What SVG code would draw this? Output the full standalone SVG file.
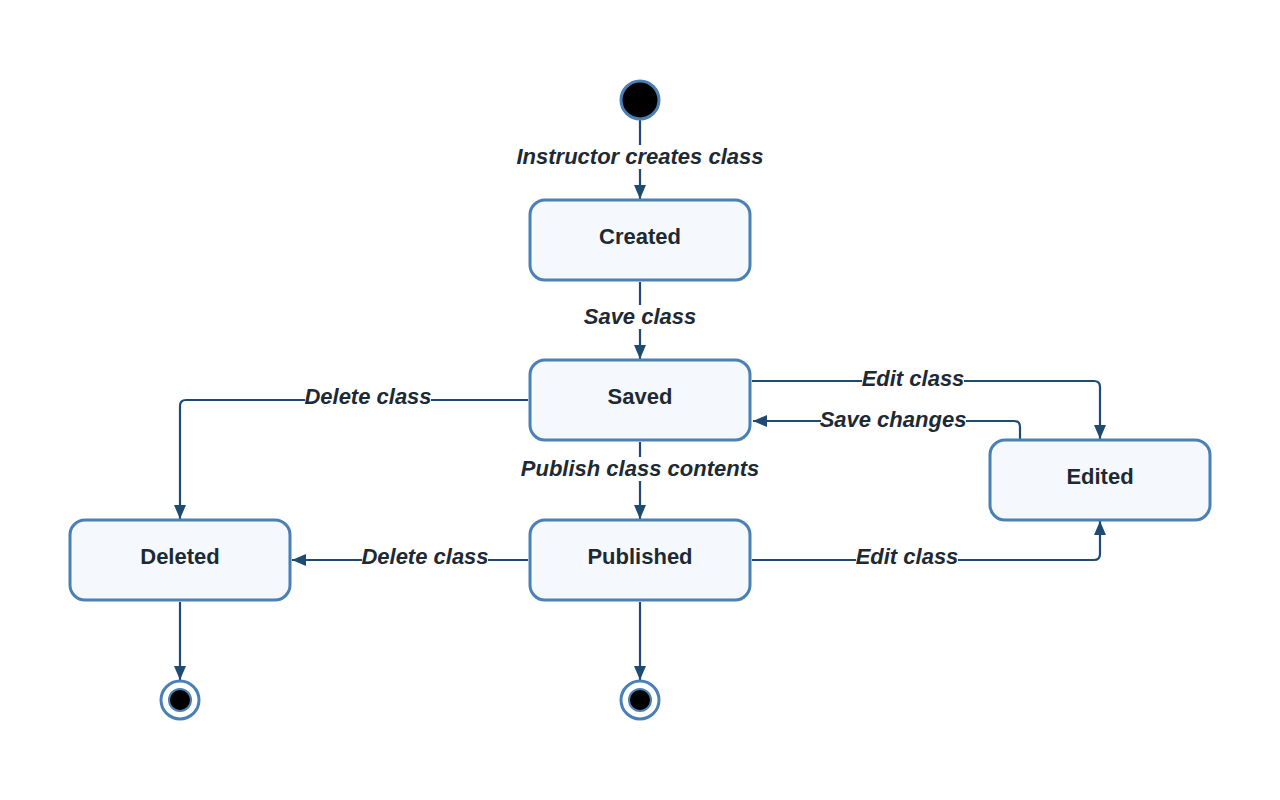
<svg xmlns="http://www.w3.org/2000/svg" width="1280" height="800" viewBox="0 0 1280 800">
<style>
.node rect{fill:#f5f9fd;stroke:#4a80b6;stroke-width:3}
.node text{font-family:"Liberation Sans",Arial,sans-serif;font-weight:bold;font-size:22px;fill:#1e2a33;text-anchor:middle;dominant-baseline:central}
.edge{fill:none;stroke:#1f4a72;stroke-width:2.2}
.lbl{font-family:"Liberation Sans",Arial,sans-serif;font-weight:bold;font-style:italic;font-size:22px;fill:#1e2a33;text-anchor:middle;dominant-baseline:central}
.bg{fill:#ffffff}
</style>
<defs>
<marker id="arr" viewBox="0 0 14 12" refX="14" refY="6" markerWidth="14" markerHeight="12" markerUnits="userSpaceOnUse" orient="auto">
<path d="M0,0 L14,6 L0,12 z" fill="#1f4a72"/>
</marker>
</defs>
<rect width="1280" height="800" fill="#ffffff"/>
<g id="connectors">
<path class="edge" d="M640,120 V199" marker-end="url(#arr)"/>
<path class="edge" d="M640,282 V359" marker-end="url(#arr)"/>
<path class="edge" d="M752,381 H1094 Q1100,381 1100,387 V439" marker-end="url(#arr)"/>
<path class="edge" d="M1020,439 V427 Q1020,421 1014,421 H753" marker-end="url(#arr)"/>
<path class="edge" d="M528,400 H186 Q180,400 180,406 V519" marker-end="url(#arr)"/>
<path class="edge" d="M640,442 V519" marker-end="url(#arr)"/>
<path class="edge" d="M528,560 H292" marker-end="url(#arr)"/>
<path class="edge" d="M752,560 H1094 Q1100,560 1100,554 V521" marker-end="url(#arr)"/>
<path class="edge" d="M180,602 V680" marker-end="url(#arr)"/>
<path class="edge" d="M640,602 V680" marker-end="url(#arr)"/>
<rect class="bg" x="516" y="145" width="248" height="24"/>
<text class="lbl" x="640" y="156">Instructor creates class</text>
<rect class="bg" x="585" y="305" width="110" height="24"/>
<text class="lbl" x="640" y="316">Save class</text>
<rect class="bg" x="862" y="367" width="102" height="24"/>
<text class="lbl" x="913" y="378">Edit class</text>
<rect class="bg" x="821" y="408" width="145" height="24"/>
<text class="lbl" x="893" y="419">Save changes</text>
<rect class="bg" x="305" y="385" width="126" height="24"/>
<text class="lbl" x="368" y="396">Delete class</text>
<rect class="bg" x="521" y="457" width="238" height="24"/>
<text class="lbl" x="640" y="468">Publish class contents</text>
<rect class="bg" x="362" y="545" width="126" height="24"/>
<text class="lbl" x="425" y="556">Delete class</text>
<rect class="bg" x="856" y="545" width="102" height="24"/>
<text class="lbl" x="907" y="556">Edit class</text>
</g>
<g id="start"><circle cx="640" cy="100" r="19" fill="#000000" stroke="#4a80b6" stroke-width="3"/></g>
<g id="created" class="node"><rect x="530" y="200" width="220" height="80" rx="15"/><text x="640" y="236">Created</text></g>
<g id="saved" class="node"><rect x="530" y="360" width="220" height="80" rx="15"/><text x="640" y="396">Saved</text></g>
<g id="published" class="node"><rect x="530" y="520" width="220" height="80" rx="15"/><text x="640" y="556">Published</text></g>
<g id="deleted" class="node"><rect x="70" y="520" width="220" height="80" rx="15"/><text x="180" y="556">Deleted</text></g>
<g id="edited" class="node"><rect x="990" y="440" width="220" height="80" rx="15"/><text x="1100" y="476">Edited</text></g>
<g id="end1"><circle cx="180" cy="700" r="19" fill="#ffffff" stroke="#4a80b6" stroke-width="3"/><circle cx="180" cy="700" r="11" fill="#000000" stroke="#4a80b6" stroke-width="2"/></g>
<g id="end2"><circle cx="640" cy="700" r="19" fill="#ffffff" stroke="#4a80b6" stroke-width="3"/><circle cx="640" cy="700" r="11" fill="#000000" stroke="#4a80b6" stroke-width="2"/></g>
</svg>
